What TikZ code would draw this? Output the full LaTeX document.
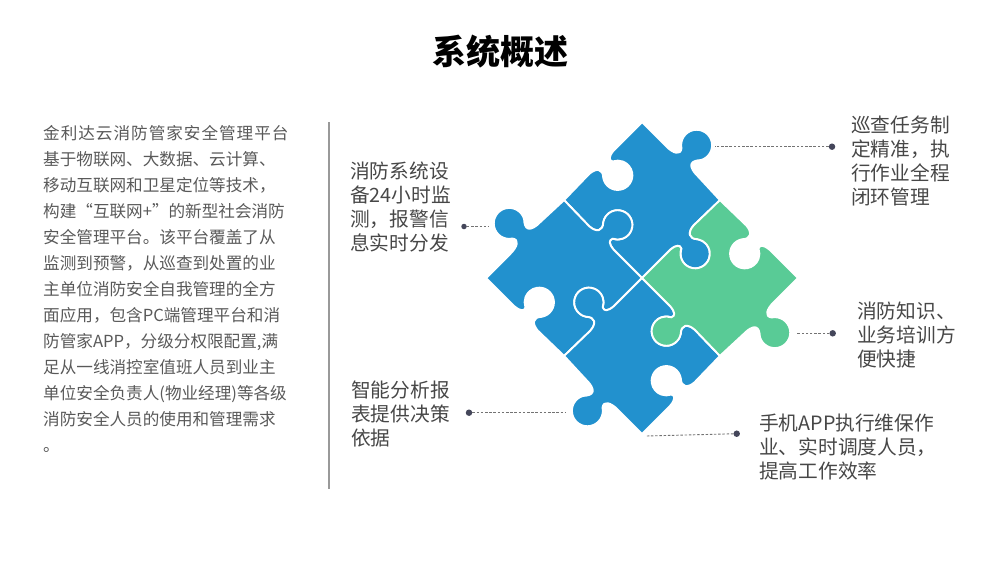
\documentclass[tikz,border=0pt]{standalone}
\usepackage{fontspec}
\usepackage{xcolor}
\setmainfont{Noto Sans CJK SC}
\definecolor{piece-blue}{HTML}{2291CE}
\definecolor{piece-green}{HTML}{59CB96}
\definecolor{leader-dot}{HTML}{44465A}
\tikzset{
    title-text/.style = {inner sep=0pt, text=black, font=\fontsize{34}{36}\selectfont\bfseries},
    body-text/.style = {inner sep=0pt, align=left, text=black!65, font=\fontsize{16.6}{26}\selectfont},
    label-text/.style = {inner sep=0pt, align=left, text=black!72, font=\fontsize{19.7}{24}\selectfont},
    leader-end/.style = {circle, fill=leader-dot, inner sep=0pt, minimum size=6.5pt},
    leader-line/.style = {draw=black!55, line width=0.9pt, dash pattern=on 2.5pt off 1.7pt},
    piece-shape/.style = {draw=white, line width=1.9pt, line join=round},
}
\newcommand{\piecepath}{(0,-154) -- (24,-130) .. controls (31,-123) and (38,-121) .. (39,-128)
    arc[start angle=168, end angle=433, radius=15.3] .. controls (48,-116) and (46,-112) .. (52,-104)
    -- (77,-77) -- (51,-52) .. controls (45,-45) and (46,-38.5) .. (55,-38.3)
    arc[start angle=280, end angle=560, radius=14.5] .. controls (37.5,-33) and (34,-33) .. (28,-28)
    -- (0,0) -- (-28,-28) .. controls (-33,-34) and (-33,-37.5) .. (-29,-38.9)
    arc[start angle=470, end angle=190, radius=14.5] .. controls (-38.5,-46) and (-45,-45) .. (-52,-51)
    -- (-77,-77) -- (-52,-103) .. controls (-45,-109) and (-38.5,-108) .. (-38.3,-99)
    arc[start angle=-190, end angle=-470, radius=14.5] .. controls (-33,-116) and (-33,-120) .. (-28,-126)
    -- cycle}

\begin{document}
\begin{tikzpicture}[x=1pt, y=-1pt]
\useasboundingbox (0,0) rectangle (1000,563);

\node[title-text] (title) at (500.5,52) {系统概述};

\node[body-text, anchor=north west] (intro) at (43,125) {{\addfontfeature{LetterSpace=6}金利达云消防管家安全管理平台}\\
基于物联网、大数据、云计算、\\
移动互联网和卫星定位等技术，\\
构建“互联网+”的新型社会消防\\
安全管理平台。该平台覆盖了从\\
监测到预警，从巡查到处置的业\\
主单位消防安全自我管理的全方\\
面应用，包含PC端管理平台和消\\
防管家APP，分级分权限配置,满\\
足从一线消控室值班人员到业主\\
单位安全负责人(物业经理)等各级\\
消防安全人员的使用和管理需求\\
。};

\coordinate (rule-top) at (329,122);
\coordinate (rule-bottom) at (329,489);
\draw[black!40, line width=1.5pt] (rule-top) -- (rule-bottom);

\foreach \ang/\col in {0/piece-blue, 90/piece-blue, 180/piece-blue, -90/piece-green}
    \path[piece-shape, fill=\col, shift={(642,278)}, rotate=\ang, scale=1.012] \piecepath;

\node[label-text, anchor=north west] (patrol) at (851,115.5) {巡查任务制\\定精准，执\\行作业全程\\闭环管理};
\node[label-text, anchor=north west] (monitor) at (350,162) {消防系统设\\备24小时监\\测，报警信\\息实时分发};
\node[label-text, anchor=north west] (training) at (857,302) {消防知识、\\业务培训方\\便快捷};
\node[label-text, anchor=north west] (report) at (351,380.5) {智能分析报\\表提供决策\\依据};
\node[label-text, anchor=north west] (mobile) at (759,414) {手机APP执行维保作\\业、实时调度人员，\\提高工作效率};

\node[leader-end] (patrol-dot) at (832,146.7) {};
\node[leader-end, minimum size=5.5pt] (monitor-dot) at (464,226.5) {};
\node[leader-end] (training-dot) at (832.7,333.3) {};
\node[leader-end] (report-dot) at (469,412.7) {};
\node[leader-end] (mobile-dot) at (736.7,433.7) {};

\coordinate (patrol-end) at (715,146.7);
\coordinate (monitor-end) at (489,226.5);
\coordinate (training-end) at (797,333.3);
\coordinate (report-end) at (566,412.7);
\coordinate (mobile-end) at (646,436);

\draw[leader-line] (patrol-dot) -- (patrol-end);
\draw[leader-line] (monitor-dot) -- (monitor-end);
\draw[leader-line] (training-dot) -- (training-end);
\draw[leader-line] (report-dot) -- (report-end);
\draw[leader-line] (mobile-dot) -- (mobile-end);
\end{tikzpicture}
\end{document}
